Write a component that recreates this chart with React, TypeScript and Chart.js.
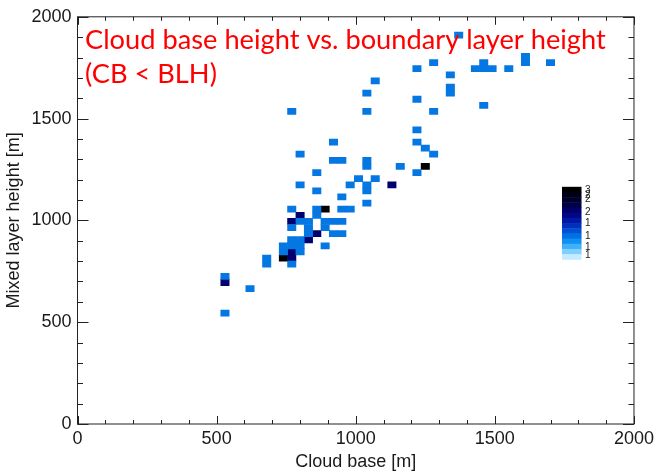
import React, { useEffect, useRef } from "react";
import { Chart, registerables } from "chart.js";

Chart.register(...registerables);

// ---- data (bin centres in metres, 30 m bins) ----
const binSize = 30;

const countOneX = [
  530, 620, 680, 680, 530, 740, 800, 740, 770, 800, 770, 770, 800, 830, 920, 950,
  770, 830, 890, 800, 830, 890, 920, 950, 860, 770, 860, 950, 980, 890, 1040, 950,
  860, 1040, 800, 980, 1040, 1010, 1070, 860, 1220, 1160, 1040, 920, 950, 1040, 800,
  1280, 1250, 920, 1220, 1220, 770, 1040, 1280, 1460, 1220, 1040, 1340, 1340, 1070,
  1340, 1220, 1430, 1460, 1490, 1550, 1280, 1460, 1610, 1700, 1610, 1370,
];
const countOneY = [
  725, 665, 815, 785, 545, 845, 845, 875, 875, 875, 785, 905, 905, 935, 935, 935,
  965, 965, 965, 995, 995, 995, 995, 995, 1025, 1055, 1055, 1055, 1055, 875, 1085, 1115,
  1145, 1145, 1175, 1175, 1175, 1205, 1205, 1235, 1235, 1265, 1265, 1295, 1295, 1295, 1325,
  1325, 1355, 1385, 1385, 1445, 1535, 1535, 1535, 1565, 1595, 1625, 1625, 1655, 1685,
  1715, 1745, 1745, 1745, 1745, 1745, 1775, 1775, 1775, 1775, 1805, 1910,
];
const countTwoX = [530, 770, 770, 770, 800, 860, 830, 1130];
const countTwoY = [695, 845, 815, 995, 1025, 935, 905, 1175];
const countThreeX = [740, 890, 1250];
const countThreeY = [815, 1055, 1265];

const axisMin = 0;
const axisMax = 2000;
const majorStep = 500;
const minorStep = 100;

const colorbarMin = 1;
const colorbarMax = 3;
const colorbarLabels = ["3", "2", "2", "2", "1", "1", "1", "1"];
const colorbarLabelValues = [2.9, 2.78, 2.66, 2.29, 1.99, 1.63, 1.33, 1.11];

const titleLines = ["Cloud base height vs. boundary layer height", "(CB < BLH)"];
const xTitle = "Cloud base [m]";
const yTitle = "Mixed layer height [m]";

// ---- styles ----
const FONT = "'Liberation Sans', Arial, Helvetica, sans-serif";
const TEXT = "#1a1a1a";
const colorbarBands = [
  "#000000", "#000014", "#00002c", "#000048", "#000068", "#000888", "#0018a4",
  "#0030bc", "#0050d4", "#0070e6", "#1090f0", "#40b0f8", "#80d0ff", "#c4ebff",
];

function toBars(xs: number[], ys: number[]) {
  return xs.map((x, i) => ({ x, y: [ys[i] - binSize / 2, ys[i] + binSize / 2] }));
}

const overlay = {
  id: "overlay",
  afterDraw(chart: any) {
    const { ctx, chartArea: a, scales } = chart;
    const xs = scales.x;
    const ys = scales.y;
    ctx.save();
    ctx.strokeStyle = "#222";
    ctx.lineWidth = 1;
    const line = (x1: number, y1: number, x2: number, y2: number) => {
      ctx.beginPath();
      ctx.moveTo(x1, y1);
      ctx.lineTo(x2, y2);
      ctx.stroke();
    };
    ctx.strokeRect(a.left, a.top, a.right - a.left, a.bottom - a.top);
    for (let v = axisMin; v <= axisMax; v += minorStep) {
      const major = v % majorStep === 0;
      const px = Math.round(xs.getPixelForValue(v)) + 0.5;
      const lx = major ? 8 : 4;
      line(px, a.bottom, px, a.bottom - lx);
      line(px, a.top, px, a.top + lx);
      const py = Math.round(ys.getPixelForValue(v)) + 0.5;
      const ly = major ? 11 : 5.5;
      line(a.left, py, a.left + ly, py);
      line(a.right, py, a.right - ly, py);
    }

    // title (red, overlaid in the plot)
    ctx.fillStyle = "#ff0000";
    ctx.textBaseline = "alphabetic";
    ctx.textAlign = "left";
    ctx.font = `26px Lato, 'Open Sans', sans-serif`;
    const w = ctx.measureText(titleLines[0]).width;
    const size = (26 * 521) / w;
    ctx.font = `${size}px Lato, 'Open Sans', sans-serif`;
    ctx.fillText(titleLines[0], a.left + 7.5, a.top + 32.5);
    ctx.fillText(titleLines[1], a.left + 7.5, a.top + 66.5);

    // colour bar
    const cbL = a.left + 484.5;
    const cbT = a.top + 170;
    const cbW = 19.5;
    const cbH = 72.5;
    const n = colorbarBands.length;
    for (let i = 0; i < n; i++) {
      ctx.fillStyle = colorbarBands[i];
      const t0 = cbT + (cbH * i) / n;
      ctx.fillRect(cbL, t0, cbW, cbH / n + 0.5);
    }
    ctx.fillStyle = TEXT;
    ctx.font = `10px ${FONT}`;
    ctx.textBaseline = "middle";
    colorbarLabels.forEach((lab, i) => {
      const v = colorbarLabelValues[i];
      const yy = cbT + cbH - ((v - colorbarMin) / (colorbarMax - colorbarMin)) * cbH;
      ctx.fillText(lab, cbL + cbW + 3.5, yy);
    });
    ctx.restore();
  },
};

export default function App() {
  const ref = useRef<HTMLCanvasElement | null>(null);
  useEffect(() => {
    if (!ref.current) return;
    const barOpts = { grouped: false, categoryPercentage: 1, barPercentage: 1, borderWidth: 0 };
    const chart = new Chart(ref.current, {
      type: "bar",
      data: {
        datasets: [
          { label: "1", data: toBars(countOneX, countOneY) as any, backgroundColor: "#0477e3", ...barOpts },
          { label: "2", data: toBars(countTwoX, countTwoY) as any, backgroundColor: "#00006e", ...barOpts },
          { label: "3", data: toBars(countThreeX, countThreeY) as any, backgroundColor: "#000000", ...barOpts },
        ],
      },
      options: {
        animation: false,
        responsive: false,
        devicePixelRatio: 1,
        layout: { padding: { left: 0, right: 24, top: 13.5, bottom: 0 }, autoPadding: false },
        plugins: { legend: { display: false }, tooltip: { enabled: false }, title: { display: false } },
        scales: {
          x: {
            type: "linear",
            min: axisMin,
            max: axisMax,
            offset: false,
            grid: { display: false, drawTicks: false },
            border: { display: false },
            ticks: {
              stepSize: majorStep,
              callback: (v: any) => String(v),
              font: { family: FONT, size: 18 },
              color: TEXT,
              padding: 4,
              maxRotation: 0,
              autoSkip: false,
            },
            title: { display: true, text: xTitle, font: { family: FONT, size: 18 }, color: TEXT, padding: { top: 0, bottom: 1 } },
            afterFit: (s: any) => { s.height = 50; },
          },
          y: {
            type: "linear",
            min: axisMin,
            max: axisMax,
            grid: { display: false, drawTicks: false },
            border: { display: false },
            ticks: {
              stepSize: majorStep,
              callback: (v: any) => String(v),
              font: { family: FONT, size: 18 },
              color: TEXT,
              padding: 6,
              autoSkip: false,
            },
            title: { display: true, text: yTitle, font: { family: FONT, size: 18 }, color: TEXT, padding: { top: 3, bottom: 0 } },
            afterFit: (s: any) => { s.width = 77.5; },
          },
        },
      } as any,
      plugins: [overlay],
    });
    return () => chart.destroy();
  }, []);
  return (
    <div style={{ position: "fixed", left: 0, top: 0, width: 658, height: 474, background: "#fff" }}>
      <canvas ref={ref} width={658} height={474} style={{ width: 658, height: 474, display: "block" }} />
    </div>
  );
}
